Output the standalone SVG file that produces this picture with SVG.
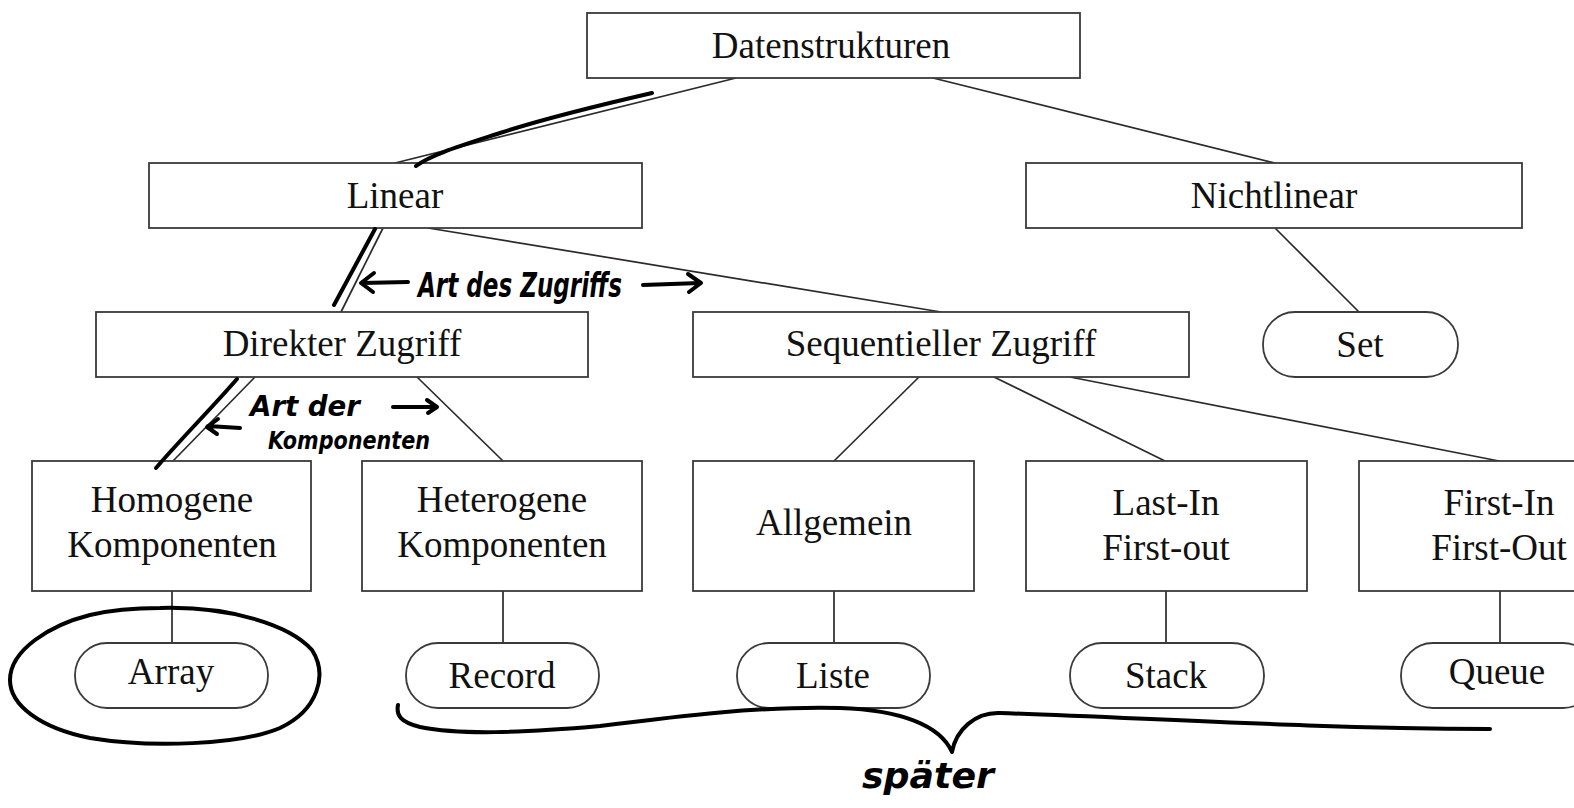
<svg xmlns="http://www.w3.org/2000/svg" width="1574" height="808" viewBox="0 0 1574 808">
<style>
.box{fill:#fff;stroke:#3a3a3a;stroke-width:1.8}
.lbl{font-family:"Liberation Serif","Times New Roman",serif;font-size:37px;fill:#111;text-anchor:middle}
.conn{stroke:#2a2a2a;stroke-width:1.7;fill:none}
.ink{stroke:#000;stroke-width:4;fill:none;stroke-linecap:round;stroke-linejoin:round}
.hand{font-family:"DejaVu Sans Condensed","DejaVu Sans",sans-serif;font-weight:bold;font-style:italic;fill:#000}
</style>
<rect width="1574" height="808" fill="#fff"/>
<g id="connectors">
<line class="conn" x1="736" y1="78" x2="395" y2="163"/>
<line class="conn" x1="933" y1="78" x2="1275" y2="163"/>
<line class="conn" x1="383" y1="228" x2="341" y2="312"/>
<line class="conn" x1="428" y1="228" x2="941" y2="312"/>
<line class="conn" x1="1275" y1="228" x2="1359" y2="312"/>
<line class="conn" x1="255" y1="377" x2="173" y2="461"/>
<line class="conn" x1="417" y1="377" x2="503" y2="461"/>
<line class="conn" x1="919" y1="377" x2="834" y2="461"/>
<line class="conn" x1="994" y1="377" x2="1165" y2="461"/>
<line class="conn" x1="1070" y1="377" x2="1499" y2="461"/>
<line class="conn" x1="172" y1="591" x2="172" y2="643"/>
<line class="conn" x1="503" y1="591" x2="503" y2="643"/>
<line class="conn" x1="834" y1="591" x2="834" y2="643"/>
<line class="conn" x1="1166" y1="591" x2="1166" y2="643"/>
<line class="conn" x1="1500" y1="591" x2="1500" y2="643"/>
</g>
<g id="n-datenstrukturen"><rect class="box" x="587" y="13" width="493" height="65"/><text class="lbl" x="831" y="58">Datenstrukturen</text></g>
<g id="n-linear"><rect class="box" x="149" y="163" width="493" height="65"/><text class="lbl" x="395" y="208">Linear</text></g>
<g id="n-nichtlinear"><rect class="box" x="1026" y="163" width="496" height="65"/><text class="lbl" x="1274" y="208">Nichtlinear</text></g>
<g id="n-direkt"><rect class="box" x="96" y="312" width="492" height="65"/><text class="lbl" x="342" y="356">Direkter Zugriff</text></g>
<g id="n-seq"><rect class="box" x="693" y="312" width="496" height="65"/><text class="lbl" x="941" y="356">Sequentieller Zugriff</text></g>
<g id="n-set"><rect class="box" x="1263" y="312" width="195" height="65" rx="32" ry="32"/><text class="lbl" x="1360" y="357">Set</text></g>
<g id="n-homogen"><rect class="box" x="32" y="461" width="279" height="130"/><text class="lbl" x="172" y="512">Homogene</text><text class="lbl" x="172" y="557">Komponenten</text></g>
<g id="n-heterogen"><rect class="box" x="362" y="461" width="280" height="130"/><text class="lbl" x="502" y="512">Heterogene</text><text class="lbl" x="502" y="557">Komponenten</text></g>
<g id="n-allgemein"><rect class="box" x="693" y="461" width="281" height="130"/><text class="lbl" x="834" y="535">Allgemein</text></g>
<g id="n-lifo"><rect class="box" x="1026" y="461" width="281" height="130"/><text class="lbl" x="1166" y="515">Last-In</text><text class="lbl" x="1166" y="560">First-out</text></g>
<g id="n-fifo"><rect class="box" x="1359" y="461" width="281" height="130"/><text class="lbl" x="1499" y="515">First-In</text><text class="lbl" x="1499" y="560">First-Out</text></g>
<g id="n-array"><rect class="box" x="75" y="643" width="193" height="65" rx="32" ry="32"/><text class="lbl" x="171" y="684">Array</text></g>
<g id="n-record"><rect class="box" x="406" y="643" width="193" height="65" rx="32" ry="32"/><text class="lbl" x="502" y="688">Record</text></g>
<g id="n-liste"><rect class="box" x="737" y="643" width="193" height="65" rx="32" ry="32"/><text class="lbl" x="833" y="688">Liste</text></g>
<g id="n-stack"><rect class="box" x="1070" y="643" width="194" height="65" rx="32" ry="32"/><text class="lbl" x="1166" y="688">Stack</text></g>
<g id="n-queue"><rect class="box" x="1401" y="643" width="194" height="65" rx="32" ry="32"/><text class="lbl" x="1497" y="684">Queue</text></g>
<g id="annotations">
<path class="ink" d="M652,93 C600,105 540,120 500,133 C460,146 430,155 416,166"/>
<path class="ink" d="M375,229 L334,305"/>
<path class="ink" d="M237,379 C210,410 180,440 156,468"/>
<path class="ink" stroke-width="3" d="M408,282 L362,283 M374,273 L361,283 L373,292"/>
<path class="ink" stroke-width="3" d="M643,285 L700,283 M688,274 L701,283 L689,292"/>
<text class="hand" x="418" y="297" font-size="34" textLength="204" lengthAdjust="spacingAndGlyphs">Art des Zugriffs</text>
<path class="ink" stroke-width="3" d="M240,428 L208,426 M218,419 L207,427 L217,434"/>
<path class="ink" stroke-width="3" d="M393,407 L436,407 M427,400 L437,407 L428,413"/>
<text class="hand" x="250" y="416" font-size="28" textLength="110" lengthAdjust="spacingAndGlyphs">Art der</text>
<text class="hand" x="268" y="449" font-size="24" textLength="162" lengthAdjust="spacingAndGlyphs">Komponenten</text>
<path class="ink" d="M160,608 C230,606 290,625 312,650 C328,675 318,710 280,728 C240,745 150,748 90,738 C40,728 10,705 10,680 C10,650 50,625 90,615 C115,609 140,608 160,608 Z"/>
<path class="ink" d="M398,705 C396,715 400,722 420,727 C460,735 520,733 600,726 C680,716 760,706 840,708 C900,710 940,725 952,752 C956,730 975,712 1000,713 C1150,718 1300,728 1490,729"/>
<text class="hand" x="862" y="788" font-size="36" textLength="132" lengthAdjust="spacingAndGlyphs">später</text>
</g>
</svg>
